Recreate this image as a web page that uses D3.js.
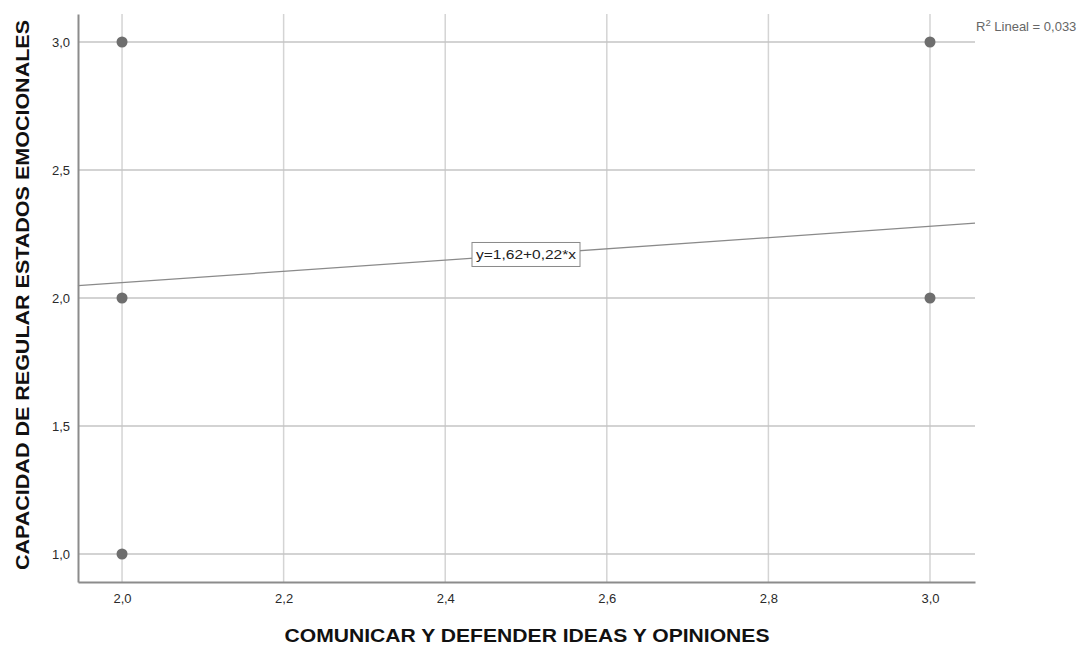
<!DOCTYPE html>
<html>
<head>
<meta charset="utf-8">
<script src="https://cdn.jsdelivr.net/npm/d3@7"></script>
<style>
  html, body { margin: 0; padding: 0; background: #fff; }
  svg { display: block; font-family: "Liberation Sans", Arial, sans-serif; }
</style>
</head>
<body>
<svg id="chart" width="1088" height="646"></svg>
<script>
// Observed pairs (x = comunicar/defender, y = regular estados emocionales)
const xValues = [2, 2, 2, 3, 3];
const yValues = [3, 2, 1, 3, 2];
const xTicks = [2.0, 2.2, 2.4, 2.6, 2.8, 3.0];
const yTicks = [1.0, 1.5, 2.0, 2.5, 3.0];
// Linear fit reported on the chart
const fitIntercept = [1.62];
const fitSlope = [0.22];
const rSquared = [0.033];

const xTitle = "COMUNICAR Y DEFENDER IDEAS Y OPINIONES";
const yTitle = "CAPACIDAD DE REGULAR ESTADOS EMOCIONALES";

const svg = d3.select("#chart");
const plot = { left: 78, right: 975, top: 14, bottom: 582 };

const x = d3.scaleLinear().domain([1.9455, 3.0557]).range([plot.left, plot.right]);
const y = d3.scaleLinear().domain([0.8906, 3.1094]).range([plot.bottom, plot.top]);

const fmt = v => d3.format(".1f")(v).replace(".", ",");
const fmt2 = v => d3.format(".2f")(v).replace(".", ",");

// Grid
const grid = svg.append("g");
grid.selectAll("line.v").data(xTicks).join("line")
  .attr("x1", d => x(d)).attr("x2", d => x(d))
  .attr("y1", plot.top).attr("y2", plot.bottom)
  .attr("stroke", "#d4d4d4").attr("stroke-width", 1.5);
grid.selectAll("line.h").data(yTicks).join("line")
  .attr("x1", plot.left).attr("x2", plot.right)
  .attr("y1", d => y(d)).attr("y2", d => y(d))
  .attr("stroke", "#c4c4c4").attr("stroke-width", 1.5);

// Axes
const xAxis = svg.append("g").attr("transform", `translate(0,${plot.bottom})`)
  .call(d3.axisBottom(x).tickValues(xTicks).tickFormat(fmt).tickSize(0).tickPadding(12));
const yAxis = svg.append("g").attr("transform", `translate(${plot.left},0)`)
  .call(d3.axisLeft(y).tickValues(yTicks).tickFormat(fmt).tickSize(0).tickPadding(8));
[xAxis, yAxis].forEach(a => {
  a.select(".domain").attr("stroke", "#8c8c8c").attr("stroke-width", 2);
  a.selectAll("text").attr("fill", "#2a2a2a").style("font-size", "13px")
    .style("font-family", "'Liberation Sans', Arial, sans-serif");
});

// Fit line
const fit = v => fitIntercept[0] + fitSlope[0] * v;
const xd = x.domain();
svg.append("line")
  .attr("x1", x(xd[0])).attr("y1", y(fit(xd[0])))
  .attr("x2", x(xd[1])).attr("y2", y(fit(xd[1])))
  .attr("stroke", "#8a8a8a").attr("stroke-width", 1.3);

// Points
svg.append("g").selectAll("circle").data(xValues.map((v, i) => [v, yValues[i]])).join("circle")
  .attr("cx", d => x(d[0])).attr("cy", d => y(d[1])).attr("r", 5.5)
  .attr("fill", "#6e6e6e");

// Equation label on the fit line
const labX = x.invert(526);
const lg = svg.append("g").attr("transform", `translate(${x(labX)},${y(fit(labX))})`);
lg.append("rect")
  .attr("x", -54).attr("y", -12).attr("width", 108).attr("height", 24)
  .attr("fill", "#fff").attr("stroke", "#8a8a8a").attr("stroke-width", 1);
lg.append("text").text(`y=${fmt2(fitIntercept[0])}+${fmt2(fitSlope[0])}*x`)
  .attr("text-anchor", "middle").attr("dy", "0.36em")
  .attr("textLength", 100).attr("lengthAdjust", "spacingAndGlyphs")
  .attr("fill", "#222").style("font-size", "13.5px");

// R² note
const rt = svg.append("text").attr("x", 976).attr("y", 31).attr("fill", "#666")
  .style("font-size", "13px");
rt.append("tspan").text("R");
rt.append("tspan").text("2").attr("dy", -5).style("font-size", "9.5px");
rt.append("tspan").text(` Lineal = ${d3.format(".3f")(rSquared[0]).replace(".", ",")}`).attr("dy", 5);

// Axis titles
svg.append("text").attr("x", 527).attr("y", 642).attr("text-anchor", "middle")
  .attr("textLength", 485).attr("lengthAdjust", "spacingAndGlyphs")
  .attr("fill", "#111").style("font-size", "18px").style("font-weight", "bold").text(xTitle);
svg.append("text").attr("transform", "translate(29,295) rotate(-90)").attr("text-anchor", "middle")
  .attr("textLength", 550).attr("lengthAdjust", "spacingAndGlyphs")
  .attr("fill", "#111").style("font-size", "18px").style("font-weight", "bold").text(yTitle);
</script>
</body>
</html>
